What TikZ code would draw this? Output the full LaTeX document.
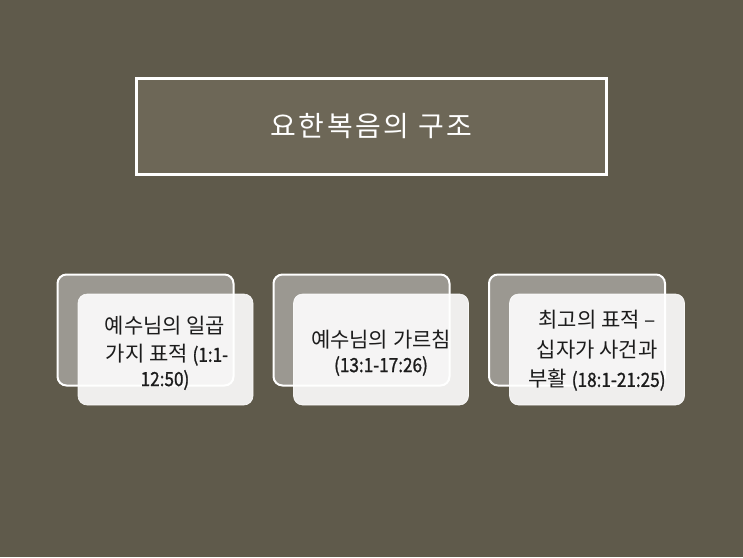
\documentclass[tikz,border=0pt]{standalone}
\usepackage{fontspec}
\setmainfont{Noto Sans CJK KR}
\definecolor{bgcol}{HTML}{5F5A4B}
\definecolor{titlefill}{HTML}{6D6757}
\definecolor{backfill}{HTML}{9B9891}
\definecolor{txtcol}{HTML}{1C1C1C}
\newcommand{\lat}[1]{{\fontsize{19.5}{27}\selectfont\addfontfeature{FakeBold=1.2,FakeStretch=0.88}#1}}
\begin{document}
\begin{tikzpicture}[x=1pt,y=-1pt,
  titlebox/.style={draw=white,line width=2.5pt,fill=titlefill,minimum width=470pt,minimum height=96pt,inner sep=0pt},
  backbox/.style={draw=white,line width=2pt,fill=backfill,rounded corners=9pt,minimum width=176pt,minimum height=111pt,inner sep=0pt},
  frontbox/.style={draw=white,line width=0.6pt,fill=white,fill opacity=0.9,draw opacity=0.9,text opacity=1,rounded corners=9pt,minimum width=175pt,minimum height=111pt,inner sep=0pt},
  boxtext/.style={text=txtcol,font=\fontsize{21}{27}\selectfont,align=center,inner sep=0pt}
]
\fill[bgcol] (0,0) rectangle (743,557);
\useasboundingbox (0,0) rectangle (743,557);
\node[titlebox] (title) at (371.5,126.5) {};
\node[text=white,font=\fontsize{28}{30}\selectfont\addfontfeature{LetterSpace=9}] (titletext) at (371.5,126) {요한복음의 구조};

\node[backbox] (b1) at (145.5,330) {};
\node[frontbox] (f1) at (165.5,349.5) {};
\node[boxtext] (t1a) at (165,326) {예수님의 일곱};
\node[boxtext] (t1b) at (167,355) {가지 표적 \lat{(1:1-}};
\node[boxtext] (t1c) at (165,380) {\lat{12:50)}};

\node[backbox] (b2) at (361.5,330) {};
\node[frontbox] (f2) at (381,349.5) {};
\node[boxtext] (t2a) at (381,340) {예수님의 가르침};
\node[boxtext] (t2b) at (381,366) {\lat{(13:1-17:26)}};

\node[backbox] (b3) at (577,330) {};
\node[frontbox] (f3) at (597,349.5) {};
\node[boxtext] (t3a) at (597,320) {최고의 표적 –};
\node[boxtext] (t3b) at (597,350) {십자가 사건과};
\node[boxtext] (t3c) at (597,380) {부활 \lat{(18:1-21:25)}};
\end{tikzpicture}
\end{document}
